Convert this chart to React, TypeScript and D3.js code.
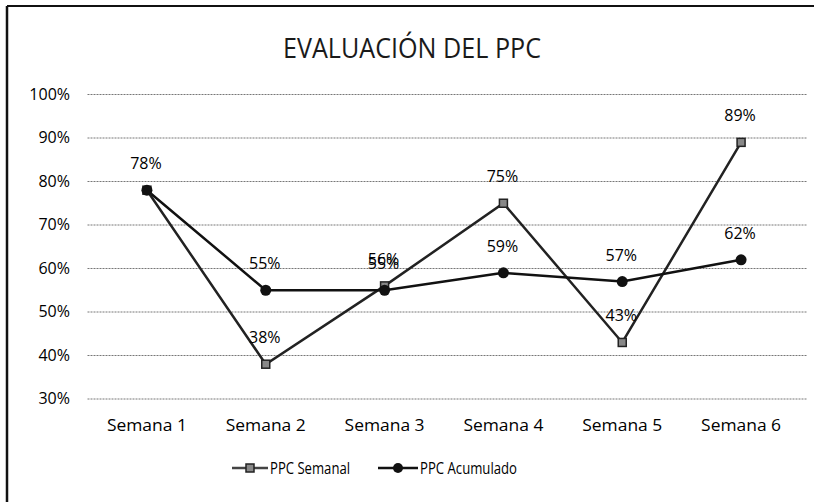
import React from "react";
import * as d3 from "d3";

const categories = ["Semana 1", "Semana 2", "Semana 3", "Semana 4", "Semana 5", "Semana 6"];
const ppcSemanal = [0.78, 0.38, 0.56, 0.75, 0.43, 0.89];
const ppcAcumulado = [0.78, 0.55, 0.55, 0.59, 0.57, 0.62];
const yTicks = [0.3, 0.4, 0.5, 0.6, 0.7, 0.8, 0.9, 1.0];
const seriesNames = ["PPC Semanal", "PPC Acumulado"];
const title = "EVALUACIÓN DEL PPC";

const W = 814;
const H = 502;
const FONT = "'Open Sans', 'Noto Sans', sans-serif";

export default function App() {
  const x = d3.scaleBand<string>().domain(categories).range([87.5, 800.5]).padding(0);
  const y = d3.scaleLinear().domain([0.3, 1.0]).range([399, 94.5]);
  const cx = (c: string) => (x(c) ?? 0) + x.bandwidth() / 2;
  const pct = d3.format(".0%");

  const line = d3
    .line<number>()
    .x((_, i) => cx(categories[i]))
    .y((d) => y(d));

  const [r0, r1] = x.range();

  return (
    <svg
      width={W}
      height={H}
      style={{ position: "absolute", left: 0, top: 0, background: "#fff" }}
      fontFamily={FONT}
    >
      <rect x={0} y={0} width={W} height={H} fill="#fff" />
      {/* border */}
      <line x1={7} y1={6} x2={W} y2={6} stroke="#111" strokeWidth={2} />
      <line x1={7} y1={6} x2={7} y2={H} stroke="#111" strokeWidth={2.5} />

      {/* title */}
      <text x={412} y={58} textAnchor="middle" fontSize={28} fill="#1a1a1a" textLength={258} lengthAdjust="spacingAndGlyphs">
        {title}
      </text>

      {/* gridlines & y labels */}
      {yTicks.map((t) => (
        <g key={t}>
          <line
            x1={r0}
            x2={r1 + 7}
            y1={y(t)}
            y2={y(t)}
            stroke="#777"
            strokeWidth={1}
            strokeDasharray="2,1"
          />
          <text x={70} y={y(t) + 5} textAnchor="end" fontSize={16} fill="#000">
            {pct(t)}
          </text>
        </g>
      ))}

      {/* x labels */}
      {categories.map((c) => (
        <text key={c} x={cx(c)} y={431} textAnchor="middle" fontSize={16} fill="#000" textLength={80} lengthAdjust="spacingAndGlyphs">
          {c}
        </text>
      ))}

      {/* lines */}
      <path d={line(ppcSemanal) ?? ""} fill="none" stroke="#222" strokeWidth={2.5} />
      <path d={line(ppcAcumulado) ?? ""} fill="none" stroke="#111" strokeWidth={2.5} />

      {/* markers */}
      {ppcSemanal.map((v, i) => (
        <rect
          key={"s" + i}
          x={cx(categories[i]) - 4}
          y={y(v) - 4}
          width={8}
          height={8}
          fill="#888"
          stroke="#222"
          strokeWidth={1.5}
        />
      ))}
      {ppcAcumulado.map((v, i) => (
        <circle key={"a" + i} cx={cx(categories[i])} cy={y(v)} r={5.5} fill="#111" />
      ))}

      {/* data labels */}
      {ppcSemanal.map((v, i) => (
        <text key={"ls" + i} x={cx(categories[i]) - 1} y={y(v) - 21} textAnchor="middle" fontSize={16} fill="#000">
          {pct(v)}
        </text>
      ))}
      {ppcAcumulado.map((v, i) =>
        i === 0 ? null : (
          <text key={"la" + i} x={cx(categories[i]) - 1} y={y(v) - 21} textAnchor="middle" fontSize={16} fill="#000">
            {pct(v)}
          </text>
        )
      )}

      {/* legend */}
      <g>
        <line x1={232} x2={268} y1={468} y2={468} stroke="#444" strokeWidth={2.5} />
        <rect x={246} y={464} width={8} height={8} fill="#888" stroke="#222" strokeWidth={1.5} />
        <text x={270} y={474} fontSize={16} fill="#000" textLength={80} lengthAdjust="spacingAndGlyphs">
          {seriesNames[0]}
        </text>
        <line x1={378} x2={418} y1={468} y2={468} stroke="#111" strokeWidth={2.5} />
        <circle cx={398} cy={468} r={5} fill="#111" />
        <text x={420} y={474} fontSize={16} fill="#000" textLength={97} lengthAdjust="spacingAndGlyphs">
          {seriesNames[1]}
        </text>
      </g>
    </svg>
  );
}
